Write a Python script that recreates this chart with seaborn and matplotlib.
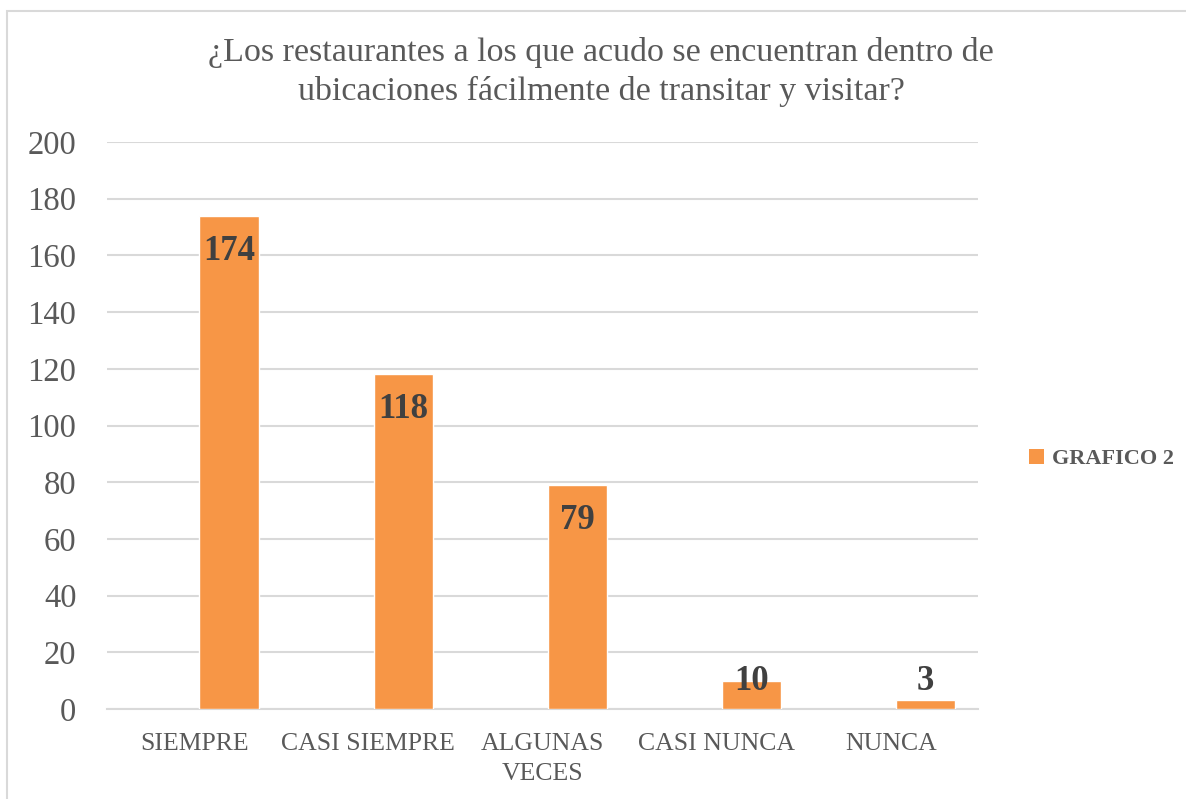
import matplotlib
matplotlib.use("Agg")
import matplotlib.pyplot as plt
from matplotlib.patches import Patch, Rectangle
import pandas as pd
import seaborn as sns

categorias = ["SIEMPRE", "CASI SIEMPRE", "ALGUNAS\nVECES", "CASI NUNCA", "NUNCA"]
valores = [174, 118, 79, 10, 3]
serie = "GRAFICO 2"
titulo = "¿Los restaurantes a los que acudo se encuentran dentro de\nubicaciones fácilmente de transitar y visitar?"
y_ticks = list(range(0, 201, 20))

naranja = "#F79646"
gris_texto = "#595959"
gris_linea = "#D9D9D9"

df = pd.DataFrame({"categoria": categorias, "valor": valores, "serie": serie})

sns.set_theme(style="white")
plt.rcParams["font.family"] = ["Liberation Serif", "DejaVu Serif"]

fig = plt.figure(figsize=(11.86, 7.99), dpi=100)
ax = fig.add_axes([107 / 1186, 90 / 799, 871 / 1186, 567 / 799])

# serie vacia en hue_order para que la barra quede desplazada como en Excel
sns.barplot(
	data=df,
	x="categoria",
	y="valor",
	hue="serie",
	hue_order=["_vacio", serie],
	palette={"_vacio": "white", serie: naranja},
	saturation=1,
	dodge=True,
	width=0.8,
	gap=0.15,
	legend=False,
	ax=ax,
	zorder=3,
)

ax.set_xlim(-0.5, 4.5)
ax.set_ylim(0, 200)
ax.set_yticks(y_ticks)
ax.yaxis.grid(True, color=gris_linea, linewidth=1.5, zorder=0)
ax.xaxis.grid(False)
for lado in ["top", "right", "left"]:
	ax.spines[lado].set_visible(False)
ax.spines["bottom"].set_color(gris_linea)
ax.spines["bottom"].set_linewidth(1.5)
ax.set_xlabel("")
ax.set_ylabel("")
ax.tick_params(axis="y", length=0, pad=22, labelsize=23.5, labelcolor=gris_texto)
ax.tick_params(axis="x", length=0, pad=17, labelsize=18.5, labelcolor=gris_texto)
for lbl in ax.get_xticklabels():
	lbl.set_linespacing(1.5)

barras = ax.containers[-1]
for rect, v in zip(barras, valores):
	cx = rect.get_x() + rect.get_width() / 2
	ax.text(
		cx, max(v - 12.5, 9.6), str(v),
		ha="center", va="center", fontsize=25, fontweight="bold",
		color="#404040", zorder=4,
	)

fig.text(601 / 1186, 1 - 72 / 799, titulo, ha="center", va="center",
	fontsize=24.5, color=gris_texto, linespacing=1.32)

fig.legend(
	handles=[Patch(facecolor=naranja, edgecolor="none", label=serie)],
	loc="center left",
	bbox_to_anchor=(1018 / 1186, 1 - 459 / 799),
	frameon=False,
	prop={"size": 16, "weight": "bold"},
	labelcolor=gris_texto,
	handlelength=0.65,
	handleheight=0.65,
	handletextpad=0.4,
	borderpad=0,
)

fig.patches.append(Rectangle((7 / 1186, -0.1), 1.2, 1.1 - 11 / 799,
	transform=fig.transFigure, fill=False, edgecolor=gris_linea, linewidth=1.5))

fig.savefig("out.png", dpi=100, facecolor="white")
